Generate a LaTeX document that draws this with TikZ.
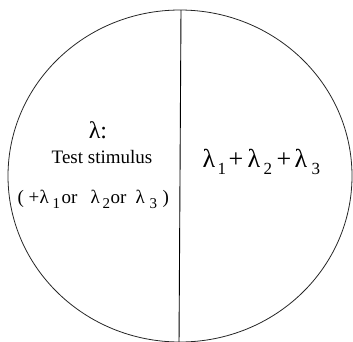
\documentclass[tikz,border=0pt]{standalone}
\usepackage{fontspec}
\setmainfont{Liberation Serif}
\usetikzlibrary{shapes.geometric}
\newcommand\lsub[2]{\raisebox{-0.3em}{\fontsize{#2}{#2}\selectfont #1}}
\newcommand\putat[2]{\rlap{\hspace{#1pt}#2}}
\tikzset{
  outline/.style={draw=black!85, line width=0.8pt},
  divider/.style={draw=black, line width=0.9pt},
  lbl/.style={inner sep=0pt, anchor=base}
}
\begin{document}
\begin{tikzpicture}[x=1pt,y=-1pt]
\useasboundingbox (0,0) rectangle (353,341);
\node[ellipse, outline, minimum width=344pt, minimum height=332pt, inner sep=0pt] (oval) at (180,176) {};
\coordinate (top) at (181,10);
\coordinate (bot) at (179,345);
\draw[divider] (top) -- (bot);
\node[lbl] (lam) at (98,138) {\fontsize{24}{24}\selectfont λ:};
\node[lbl] (test) at (102,163) {\fontsize{19}{19}\selectfont Test stimulus};
\node[lbl, anchor=base west] (alt) at (17,203) {\fontsize{19}{19}\selectfont
  \putat{0}{(}\putat{11}{+}\putat{22}{λ}\putat{35}{\lsub{1}{15}}\putat{44}{or}%
  \putat{73}{λ}\putat{85}{\lsub{2}{15}}\putat{93}{or}\putat{118}{λ}\putat{132}{\lsub{3}{15}}%
  \putat{145}{)}\hspace{152pt}};
\node[lbl, anchor=base west] (sum) at (202,167) {\fontsize{26}{26}\selectfont
  \putat{0}{λ}\putat{15}{\lsub{1}{17}}\putat{26}{+}\putat{45}{λ}\putat{61}{\lsub{2}{17}}%
  \putat{74}{+}\putat{92}{λ}\putat{109}{\lsub{3}{17}}\hspace{122pt}};
\end{tikzpicture}
\end{document}
